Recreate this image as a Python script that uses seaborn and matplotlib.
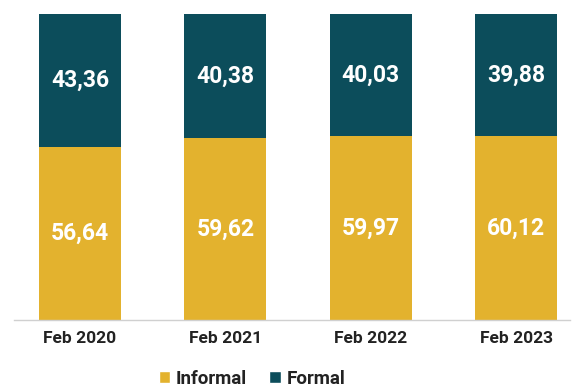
import matplotlib
matplotlib.use("Agg")
import matplotlib.pyplot as plt
import seaborn as sns
import pandas as pd
import numpy as np
from matplotlib.patches import Patch

categories = ["Feb 2020", "Feb 2021", "Feb 2022", "Feb 2023"]
informal = [56.64, 59.62, 59.97, 60.12]
formal = [43.36, 40.38, 40.03, 39.88]
labels_informal = ["56,64", "59,62", "59,97", "60,12"]
labels_formal = ["43,36", "40,38", "40,03", "39,88"]

sns.set_theme(style="white")
plt.rcParams['font.family'] = ['Roboto', 'DejaVu Sans']

GOLD = "#E3B22E"
TEAL = "#0C4D5B"

fig = plt.figure(figsize=(5.81, 3.92), dpi=100)
ax = fig.add_axes([14/581, 72/392, 556/581, 306/392])

df = pd.DataFrame({"cat": categories, "informal": informal, "formal": formal})
df["total"] = df["informal"] + df["formal"]

sns.barplot(data=df, x="cat", y="total", color=TEAL, width=0.565, ax=ax,
            saturation=1, linewidth=0)
sns.barplot(data=df, x="cat", y="informal", color=GOLD, width=0.565, ax=ax,
            saturation=1, linewidth=0)

for i in range(len(categories)):
    ax.text(i, informal[i] / 2, labels_informal[i], ha="center", va="center",
            color="white", fontsize=16.5, fontweight="bold")
    ax.text(i, informal[i] + formal[i] / 2, labels_formal[i], ha="center", va="center",
            color="white", fontsize=16.5, fontweight="bold")

ax.set_xlim(-0.454, 3.37)
ax.set_ylim(0, 100)
ax.set_xlabel("")
ax.set_ylabel("")
ax.set_yticks([])
for s in ["top", "right", "left"]:
    ax.spines[s].set_visible(False)
ax.spines["bottom"].set_color("#d0d0d0")
ax.spines["bottom"].set_linewidth(1)
ax.tick_params(axis="x", length=0, pad=8, labelsize=12.5, colors="#222222")
for t in ax.get_xticklabels():
    t.set_fontweight("bold")

handles = [Patch(facecolor=GOLD, label="Informal"), Patch(facecolor=TEAL, label="Formal")]
leg = fig.legend(handles=handles, loc="center", bbox_to_anchor=(252/581, 1 - 379/392),
                 ncol=2, frameon=False, fontsize=13.5, handlelength=0.6, handleheight=0.6,
                 handletextpad=0.3, columnspacing=1.2)
for t in leg.get_texts():
    t.set_fontweight("bold")
    t.set_color("#222222")

fig.savefig("out.png", dpi=100)
